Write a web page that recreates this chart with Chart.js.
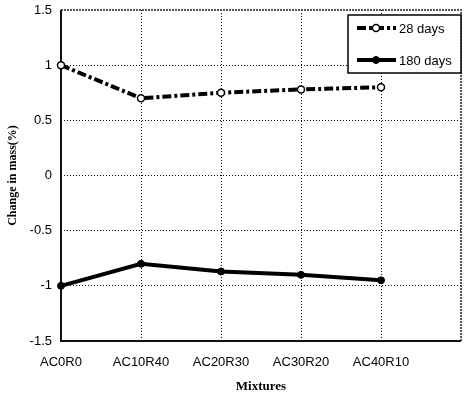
<!DOCTYPE html>
<html>
<head>
<meta charset="utf-8">
<script src="https://cdn.jsdelivr.net/npm/chart.js@4"></script>
<style>
  html, body { margin: 0; padding: 0; background: #fff; }
  #wrap { width: 464px; height: 400px; }
</style>
</head>
<body>
<div id="wrap"><canvas id="c" width="464" height="400"></canvas></div>
<script>
// Mixture designations (last slot left blank to extend the axis)
const mixtures = ['AC0R0', 'AC10R40', 'AC20R30', 'AC30R20', 'AC40R10', ''];
// Change in mass (%) per curing age
const days28 = [1.00, 0.70, 0.75, 0.78, 0.80];
const days180 = [-1.00, -0.80, -0.87, -0.90, -0.95];
const yTicks = [-1.5, -1, -0.5, 0, 0.5, 1, 1.5];

const seriesLabels = ['28 days', '180 days'];
const dashDot = [9, 3, 3, 3];

// Boxed legend in the upper right corner
const boxLegend = {
  id: 'boxLegend',
  afterDraw(chart) {
    const ctx = chart.ctx;
    const x0 = 348, y0 = 15, x1 = 461, y1 = 73;
    ctx.save();
    ctx.fillStyle = '#fff';
    ctx.fillRect(x0, y0, x1 - x0, y1 - y0);
    ctx.strokeStyle = '#000';
    ctx.lineWidth = 1.5;
    ctx.strokeRect(x0, y0, x1 - x0, y1 - y0);

    const rows = [28, 60];
    chart.data.datasets.forEach((ds, i) => {
      const y = rows[i];
      ctx.beginPath();
      ctx.setLineDash(ds.borderDash || []);
      ctx.lineWidth = ds.borderWidth;
      ctx.strokeStyle = '#000';
      ctx.moveTo(357, y);
      ctx.lineTo(396, y);
      ctx.stroke();
      ctx.setLineDash([]);
      ctx.beginPath();
      ctx.arc(376, y, ds.pointRadius, 0, Math.PI * 2);
      ctx.fillStyle = ds.pointBackgroundColor;
      ctx.fill();
      ctx.lineWidth = ds.pointBorderWidth;
      ctx.stroke();
      ctx.fillStyle = '#000';
      ctx.font = '13px "Liberation Sans", Arial, sans-serif';
      ctx.textBaseline = 'middle';
      ctx.textAlign = 'left';
      ctx.fillText(ds.label, 399, y + 1);
    });
    ctx.restore();
  }
};

// Frame: solid left/bottom axes, dense dotted top/right edges
const frameEdges = {
  id: 'frameEdges',
  beforeDatasetsDraw(chart) {
    const { ctx, chartArea: a } = chart;
    ctx.save();
    ctx.strokeStyle = '#555';
    ctx.lineWidth = 2;
    ctx.setLineDash([2, 1]);
    ctx.beginPath();
    ctx.moveTo(a.left, a.top);
    ctx.lineTo(a.right, a.top);
    ctx.lineTo(a.right, a.bottom);
    ctx.stroke();
    ctx.setLineDash([]);
    ctx.strokeStyle = '#111';
    ctx.beginPath();
    ctx.moveTo(a.left, a.top);
    ctx.lineTo(a.left, a.bottom);
    ctx.lineTo(a.right, a.bottom);
    ctx.stroke();
    ctx.restore();
  }
};

new Chart(document.getElementById('c'), {
  type: 'line',
  data: {
    labels: mixtures,
    datasets: [
      {
        label: seriesLabels[0],
        data: days28,
        borderColor: '#000',
        borderWidth: 4,
        borderDash: dashDot,
        pointRadius: 3.5,
        pointBackgroundColor: '#fff',
        pointBorderColor: '#000',
        pointBorderWidth: 1.5,
        tension: 0,
        fill: false
      },
      {
        label: seriesLabels[1],
        data: days180,
        borderColor: '#000',
        borderWidth: 4,
        pointRadius: 3.5,
        pointBackgroundColor: '#000',
        pointBorderColor: '#000',
        pointBorderWidth: 1,
        tension: 0,
        fill: false
      }
    ]
  },
  options: {
    responsive: false,
    animation: false,
    devicePixelRatio: 1,
    layout: { autoPadding: false, padding: { top: 10, right: 3, left: 0, bottom: 0 } },
    plugins: {
      legend: { display: false },
      tooltip: { enabled: false }
    },
    scales: {
      x: {
        type: 'category',
        offset: false,
        afterFit(s) { s.height = 59; s.paddingLeft = 0; s.paddingRight = 0; },
        grid: {
          color: '#000',
          lineWidth: 1,
          drawTicks: false
        },
        border: { display: false, dash: [1, 2] },
        ticks: {
          color: '#000',
          padding: 14,
          maxRotation: 0,
          autoSkip: false,
          font: { family: '"Liberation Sans", Arial, sans-serif', size: 13 }
        },
        title: {
          display: true,
          text: 'Mixtures',
          color: '#000',
          padding: { top: 0, bottom: 6 },
          font: { family: '"Liberation Serif", "Times New Roman", serif', size: 13, weight: 'bold' }
        }
      },
      y: {
        min: -1.5,
        max: 1.5,
        afterFit(s) { s.width = 61; s.paddingTop = 0; s.paddingBottom = 0; },
        afterBuildTicks(s) { s.ticks = yTicks.map(v => ({ value: v })); },
        grid: {
          color: '#000',
          lineWidth: 1,
          drawTicks: false
        },
        border: { display: false, dash: [1, 2] },
        ticks: {
          color: '#000',
          padding: 9,
          callback: v => String(v),
          font: { family: '"Liberation Sans", Arial, sans-serif', size: 13 }
        },
        title: {
          display: true,
          text: 'Change in mass(%)',
          color: '#000',
          padding: { top: 6, bottom: 0 },
          font: { family: '"Liberation Serif", "Times New Roman", serif', size: 12, weight: 'bold' }
        }
      }
    }
  },
  plugins: [frameEdges, boxLegend]
});
</script>
</body>
</html>
